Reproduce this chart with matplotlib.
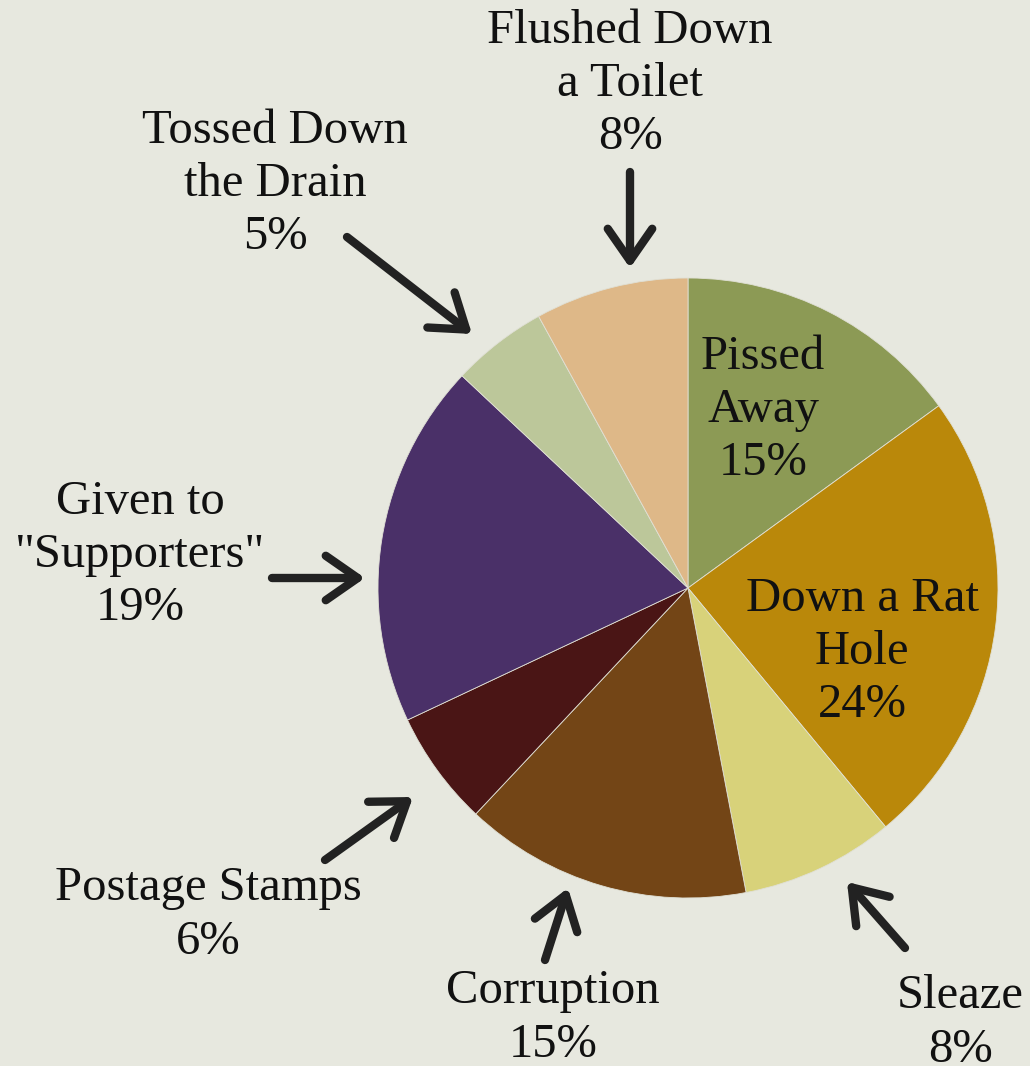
import matplotlib
matplotlib.use("Agg")
import matplotlib.pyplot as plt

# ---- data ----
categories = ["Pissed Away", "Down a Rat Hole", "Sleaze", "Corruption",
              "Postage Stamps", "Given to \"Supporters\"", "Tossed Down the Drain",
              "Flushed Down a Toilet"]
values = [15, 24, 8, 15, 6, 19, 5, 8]
label_texts = ["Pissed\nAway", "Down a Rat\nHole", "Sleaze", "Corruption",
               "Postage Stamps", "Given to\n\"Supporters\"", "Tossed Down\nthe Drain",
               "Flushed Down\na Toilet"]
colors = ["#8C9A55", "#BA880A", "#D8D27A", "#734516", "#4A1515",
          "#4A3068", "#BCC79A", "#DEB888"]

BG = "#E7E8DF"
W, H = 1030, 1066
CX, CY, R = 688, 588, 310

def px(x, y):
    return ((x - CX) / R, (CY - y) / R)

fig = plt.figure(figsize=(W / 100, H / 100), dpi=100, facecolor=BG)
ax = fig.add_axes([0, 0, 1, 1])
ax.set_facecolor(BG)
ax.pie(values, colors=colors, startangle=90, counterclock=False, radius=1,
       center=(0, 0), wedgeprops=dict(linewidth=0.6, edgecolor="#E0E0D5"))
ax.set_xlim(-CX / R, (W - CX) / R)
ax.set_ylim(-(H - CY) / R, CY / R)
ax.set_aspect("equal")
ax.axis("off")

font = dict(family=["Liberation Serif", "DejaVu Serif"], fontsize=35,
            color="#111111", ha="center", va="center", linespacing=1.27)

# label centre (px), arrow tail (px), arrow head (px) or None for inside labels
layout = [
    ((763, 410), None, None),
    ((862, 652), None, None),
    ((960, 1023), (905, 948), (847, 882)),
    ((553, 1018), (545, 960), (568, 888)),
    ((208, 915), (325, 860), (413, 797)),
    ((140, 555), (272, 578), (365, 578)),
    ((275, 184), (347, 237), (472, 334)),
    ((630, 84), (630, 172), (630, 268)),
]

for txt, v, (c, tail, head) in zip(label_texts, values, layout):
    ax.text(*px(*c), f"{txt}\n{v}%", **font)
    if tail is not None:
        ax.annotate("", xy=px(*head), xytext=px(*tail),
                    arrowprops=dict(arrowstyle="->,head_length=1.15,head_width=0.8",
                                    mutation_scale=20,
                                    lw=6, color="#222222", capstyle="round",
                                    joinstyle="round", shrinkA=0, shrinkB=0))

fig.savefig("out.png", dpi=100, facecolor=BG)
